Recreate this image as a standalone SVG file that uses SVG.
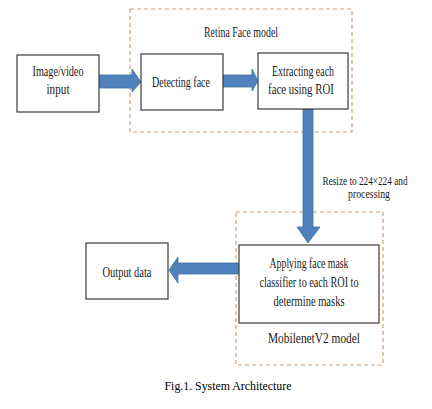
<svg xmlns="http://www.w3.org/2000/svg" width="432" height="409" viewBox="0 0 432 409">
<style>
.box{fill:#fff;stroke:#3a3a3a;stroke-width:1.2}
.grp{fill:none;stroke:#c9a27e;stroke-width:1.2;stroke-dasharray:4 3}
.t{font-family:"Liberation Serif","Times New Roman",serif;font-size:14px;fill:#1a1a1a;text-anchor:middle}
.s{font-size:12px}
.arr{fill:#4f81bd;stroke:#41719c;stroke-width:0.8}
.cap{font-family:"Liberation Serif","Times New Roman",serif;font-size:12px;fill:#000;text-anchor:middle}
</style>
<rect width="432" height="409" fill="#fff"/>
<g id="retina-group">
<rect class="grp" x="130" y="9" width="222" height="123"/>
<text class="t" x="241" y="37" textLength="74" lengthAdjust="spacingAndGlyphs">Retina Face model</text>
</g>
<g id="mobilenet-group">
<rect class="grp" x="236" y="212" width="147" height="153"/>
<text class="t" x="314" y="343" textLength="92" lengthAdjust="spacingAndGlyphs">MobilenetV2 model</text>
</g>
<g id="connectors">
<polygon class="arr" points="99,75 132,75 132,69 141,82 132,92 132,88 99,88"/>
<polygon class="arr" points="223,75 252,75 252,69 258,81 252,91 252,87 223,87"/>
<polygon class="arr" points="303,109 313,109 313,227 320,227 308,243 297,227 303,227"/>
<polygon class="arr" points="239,263 178,263 178,257 169,270 178,283 178,274 239,274"/>
<text class="t s" x="365" y="185" textLength="85" lengthAdjust="spacingAndGlyphs">Resize to 224×224 and</text>
<text class="t s" x="369" y="198" textLength="42" lengthAdjust="spacingAndGlyphs">processing</text>
</g>
<g id="image-input">
<rect class="box" x="17" y="55" width="82" height="57"/>
<text class="t" x="58" y="76" textLength="51" lengthAdjust="spacingAndGlyphs">Image/video</text>
<text class="t" x="58" y="94" textLength="23" lengthAdjust="spacingAndGlyphs">input</text>
</g>
<g id="detecting-face">
<rect class="box" x="141" y="54" width="82" height="56"/>
<text class="t" x="181" y="87" textLength="58" lengthAdjust="spacingAndGlyphs">Detecting face</text>
</g>
<g id="extracting-face">
<rect class="box" x="258" y="53" width="90" height="56"/>
<text class="t" x="303" y="76" textLength="62" lengthAdjust="spacingAndGlyphs">Extracting each</text>
<text class="t" x="301" y="94" textLength="66" lengthAdjust="spacingAndGlyphs">face using ROI</text>
</g>
<g id="apply-classifier">
<rect class="box" x="239" y="245" width="140" height="78"/>
<text class="t" x="309" y="268" textLength="79" lengthAdjust="spacingAndGlyphs">Applying face mask</text>
<text class="t" x="309" y="287" textLength="99" lengthAdjust="spacingAndGlyphs">classifier to each ROI to</text>
<text class="t" x="309" y="306" textLength="71" lengthAdjust="spacingAndGlyphs">determine masks</text>
</g>
<g id="output-data">
<rect class="box" x="86" y="243" width="82" height="56"/>
<text class="t" x="127" y="277" textLength="49" lengthAdjust="spacingAndGlyphs">Output data</text>
</g>
<text class="cap" x="228" y="390" textLength="127" lengthAdjust="spacingAndGlyphs">Fig.1. System Architecture</text>
</svg>
